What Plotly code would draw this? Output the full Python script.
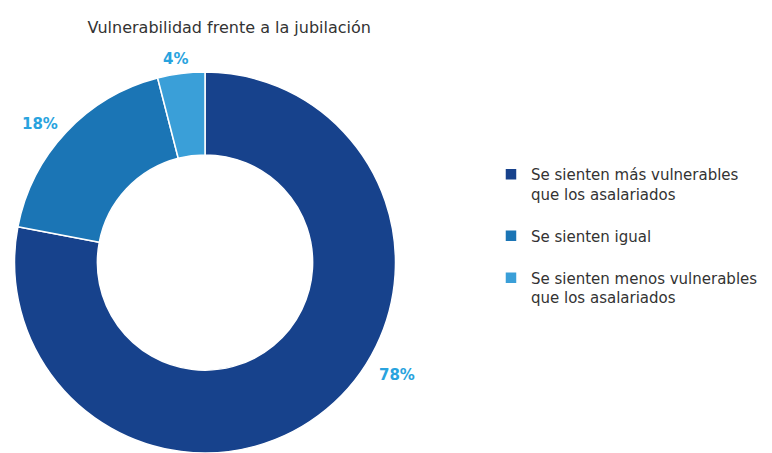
import plotly.graph_objects as go

# Datos
categorias = [
    "Se sienten más vulnerables<br>que los asalariados<br>",
    "Se sienten igual<br>",
    "Se sienten menos vulnerables<br>que los asalariados",
]
porcentajes = [78, 18, 4]
etiquetas = ["78%", "18%", "4%"]
colores = ["#17428c", "#1b75b5", "#3a9fd8"]

fig = go.Figure(go.Pie(
    labels=categorias,
    values=porcentajes,
    hole=0.565,
    sort=False,
    direction="clockwise",
    rotation=0,
    textinfo="none",
    marker=dict(colors=colores, line=dict(color="white", width=1.5)),
    domain=dict(x=[0.0188, 0.5123], y=[0, 0.841]),
))

# Etiquetas de porcentaje fuera del anillo
pos_etiquetas = [(0.5142, 0.1722), (0.0518, 0.7263), (0.2267, 0.8698)]
for txt, (px_, py_) in zip(etiquetas, pos_etiquetas):
    fig.add_annotation(
        x=px_, y=py_, xref="paper", yref="paper", text="<b>%s</b>" % txt,
        xanchor="center", yanchor="middle", showarrow=False,
        font=dict(family="DejaVu Sans", size=15, color="#29a3de"),
    )

fig.update_layout(
    width=772, height=453,
    margin=dict(l=0, r=0, t=0, b=0),
    paper_bgcolor="white",
    plot_bgcolor="white",
    title=dict(
        text="Vulnerabilidad frente a la jubilación",
        x=0.297, xanchor="center", y=0.94, yanchor="middle",
        font=dict(family="DejaVu Sans", size=16, color="#333333"),
    ),
    legend=dict(
        x=0.636, y=0.651, xanchor="left", yanchor="top",
        valign="top",
        font=dict(family="DejaVu Sans", size=15, color="#333333"),
        itemclick=False,
    ),
)

# sin margen del body para que el gráfico quede en la esquina
fig.write_html("out.html", config={"displayModeBar": False},
               post_script="document.body.style.margin='0';")
